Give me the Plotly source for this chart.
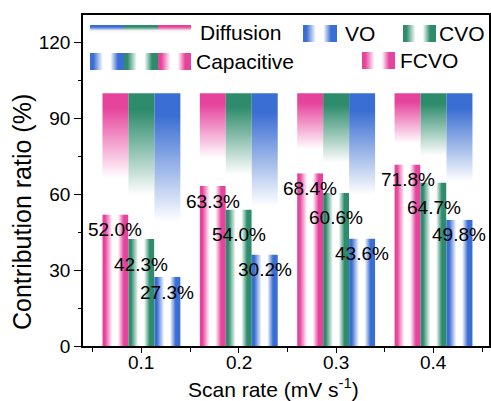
import plotly.graph_objects as go

# ---------------- data ----------------
scan_rates = [0.1, 0.2, 0.3, 0.4]
scan_labels = ["0.1", "0.2", "0.3", "0.4"]
materials = ["FCVO", "CVO", "VO"]
capacitive_FCVO = [52.0, 63.3, 68.4, 71.8]
capacitive_CVO = [42.3, 54.0, 60.6, 64.7]
capacitive_VO = [27.3, 36.2, 42.5, 50.0]
labels_FCVO = ["52.0%", "63.3%", "68.4%", "71.8%"]
labels_CVO = ["42.3%", "54.0%", "60.6%", "64.7%"]
labels_VO = ["27.3%", "30.2%", "43.6%", "49.8%"]
y_ticks = [0, 30, 60, 90, 120]

# ---------------- style ----------------
colors = {"FCVO": "#E6449C", "CVO": "#2E8C6C", "VO": "#3A6ED2"}
values = {"FCVO": capacitive_FCVO, "CVO": capacitive_CVO, "VO": capacitive_VO}
texts = {"FCVO": labels_FCVO, "CVO": labels_CVO, "VO": labels_VO}
label_shift = {"FCVO": -15, "CVO": -25, "VO": -15}
FONT = "Arial, Liberation Sans, sans-serif"
W, H = 491, 401
ML, MR, MT, MB = 83, 2, 15, 55
PW, PH = W - ML - MR, H - MT - MB
bar_w = 0.08 / 3


def px(xpix):
    return (xpix - ML) / PW


def py(ypix):
    return (H - MB - ypix) / PH


def hscale(c):
    return [[0, c], [0.1, c], [0.38, "white"], [0.6, "white"], [0.82, c], [1, c]]


def vscale(c):
    return [[0, "white"], [0.3, "white"], [0.88, c], [1, c]]


def rect(x0, x1, y0, y1):
    return [x0, x1, x1, x0, x0], [y0, y0, y1, y1, y0]


fig = go.Figure()

annotations = []
for j, m in enumerate(materials):
    c = colors[m]
    for i, r in enumerate(scan_rates):
        x0 = r + (j - 1.5) * bar_w
        x1 = x0 + bar_w
        v = values[m][i]
        # capacitive (bottom) part, horizontal gradient
        xs, ys = rect(x0, x1, 0, v)
        fig.add_trace(go.Scatter(x=xs, y=ys, mode="none", fill="toself",
                                 fillgradient=dict(type="horizontal", colorscale=hscale(c)),
                                 hoverinfo="skip", showlegend=False))
        # diffusion (top) part, vertical gradient
        xs, ys = rect(x0, x1, v, 100)
        fig.add_trace(go.Scatter(x=xs, y=ys, mode="none", fill="toself",
                                 fillgradient=dict(type="vertical", colorscale=vscale(c)),
                                 hoverinfo="skip", showlegend=False))
        annotations.append(dict(x=(x0 + x1) / 2, y=v, xref="x", yref="y",
                                text=texts[m][i], showarrow=False,
                                yanchor="middle", xanchor="center",
                                yshift=label_shift[m],
                                font=dict(family=FONT, size=19, color="black")))

# ---------------- custom legend (pixel axes overlay) ----------------
def swatch(x0, x1, y0, y1, c, kind):
    xs, ys = rect(x0, x1, y0, y1)
    cs = hscale(c) if kind == "horizontal" else [[0, "white"], [0.3, "#f4f4f4"], [0.75, c], [1, c]]
    fig.add_trace(go.Scatter(x=xs, y=ys, xaxis="x2", yaxis="y2", mode="none", fill="toself",
                             fillgradient=dict(type=kind, colorscale=cs),
                             hoverinfo="skip", showlegend=False))

legend_order = ["VO", "CVO", "FCVO"]
sx = [90, 124, 158, 191]
for k, m in enumerate(legend_order):
    swatch(sx[k], sx[k + 1], 25, 33, colors[m], "vertical")
    swatch(sx[k], sx[k + 1], 53, 70, colors[m], "horizontal")
swatch(303, 337, 25, 42, colors["VO"], "horizontal")
swatch(403, 436, 25, 42, colors["CVO"], "horizontal")
swatch(362, 395, 52, 69, colors["FCVO"], "horizontal")

for txt, x, y in [("Diffusion", 198, 32), ("VO", 343, 33), ("CVO", 437, 33),
                  ("Capacitive", 194, 61), ("FCVO", 398, 60)]:
    annotations.append(dict(x=x, y=y, xref="x2", yref="y2", text=txt, showarrow=False,
                            xanchor="left", yanchor="middle",
                            font=dict(family=FONT, size=21, color="black")))

# x tick labels (placed closer to the axis than plotly's default)
for r, lab in zip(scan_rates, scan_labels):
    annotations.append(dict(x=r, y=py(362), xref="x", yref="paper", text=lab,
                            showarrow=False, xanchor="center", yanchor="middle",
                            font=dict(family=FONT, size=19, color="black")))

# axis titles
annotations.append(dict(x=px(273), y=py(388), xref="paper", yref="paper",
                        text="Scan rate (mV s<sup>-1</sup>)", showarrow=False,
                        xanchor="center", yanchor="middle",
                        font=dict(family=FONT, size=21, color="black")))
annotations.append(dict(x=px(22), y=py(212), xref="paper", yref="paper",
                        text="Contribution ratio (%)",
                        showarrow=False, textangle=-90, xanchor="center", yanchor="middle",
                        font=dict(family=FONT, size=25, color="black")))

fig.update_layout(
    width=W, height=H,
    margin=dict(l=ML, r=MR, t=MT, b=MB, autoexpand=False),
    paper_bgcolor="white", plot_bgcolor="white",
    font=dict(family=FONT, color="black"),
    showlegend=False,
    annotations=annotations,
    xaxis=dict(range=[0.04, 0.457], tickvals=scan_rates, showticklabels=False,
               ticks="outside", ticklen=5, tickwidth=1.3, tickcolor="black",
               minor=dict(ticks="outside", ticklen=4, tickwidth=1.3, tickcolor="black",
                          tick0=0.05, dtick=0.1),
               showline=True, linecolor="black", linewidth=1.5, mirror=True,
               showgrid=False, zeroline=False),
    yaxis=dict(range=[0, 131], tickvals=y_ticks,
               ticks="outside", ticklen=7, tickwidth=1.3, tickcolor="black",
               minor=dict(ticks="outside", ticklen=3, tickwidth=1.3, tickcolor="black",
                          tick0=15, dtick=30),
               showline=True, linecolor="black", linewidth=1.5, mirror=True,
               showgrid=False, zeroline=False,
               tickfont=dict(family=FONT, size=19)),
    xaxis2=dict(range=[ML, W - MR], overlaying="x", visible=False, fixedrange=True),
    yaxis2=dict(range=[H - MB, MT], overlaying="y", visible=False, fixedrange=True),
)

fig.write_html("out.html", config={"displayModeBar": False},
               post_script="document.body.style.margin='0';document.body.style.overflow='hidden';")
